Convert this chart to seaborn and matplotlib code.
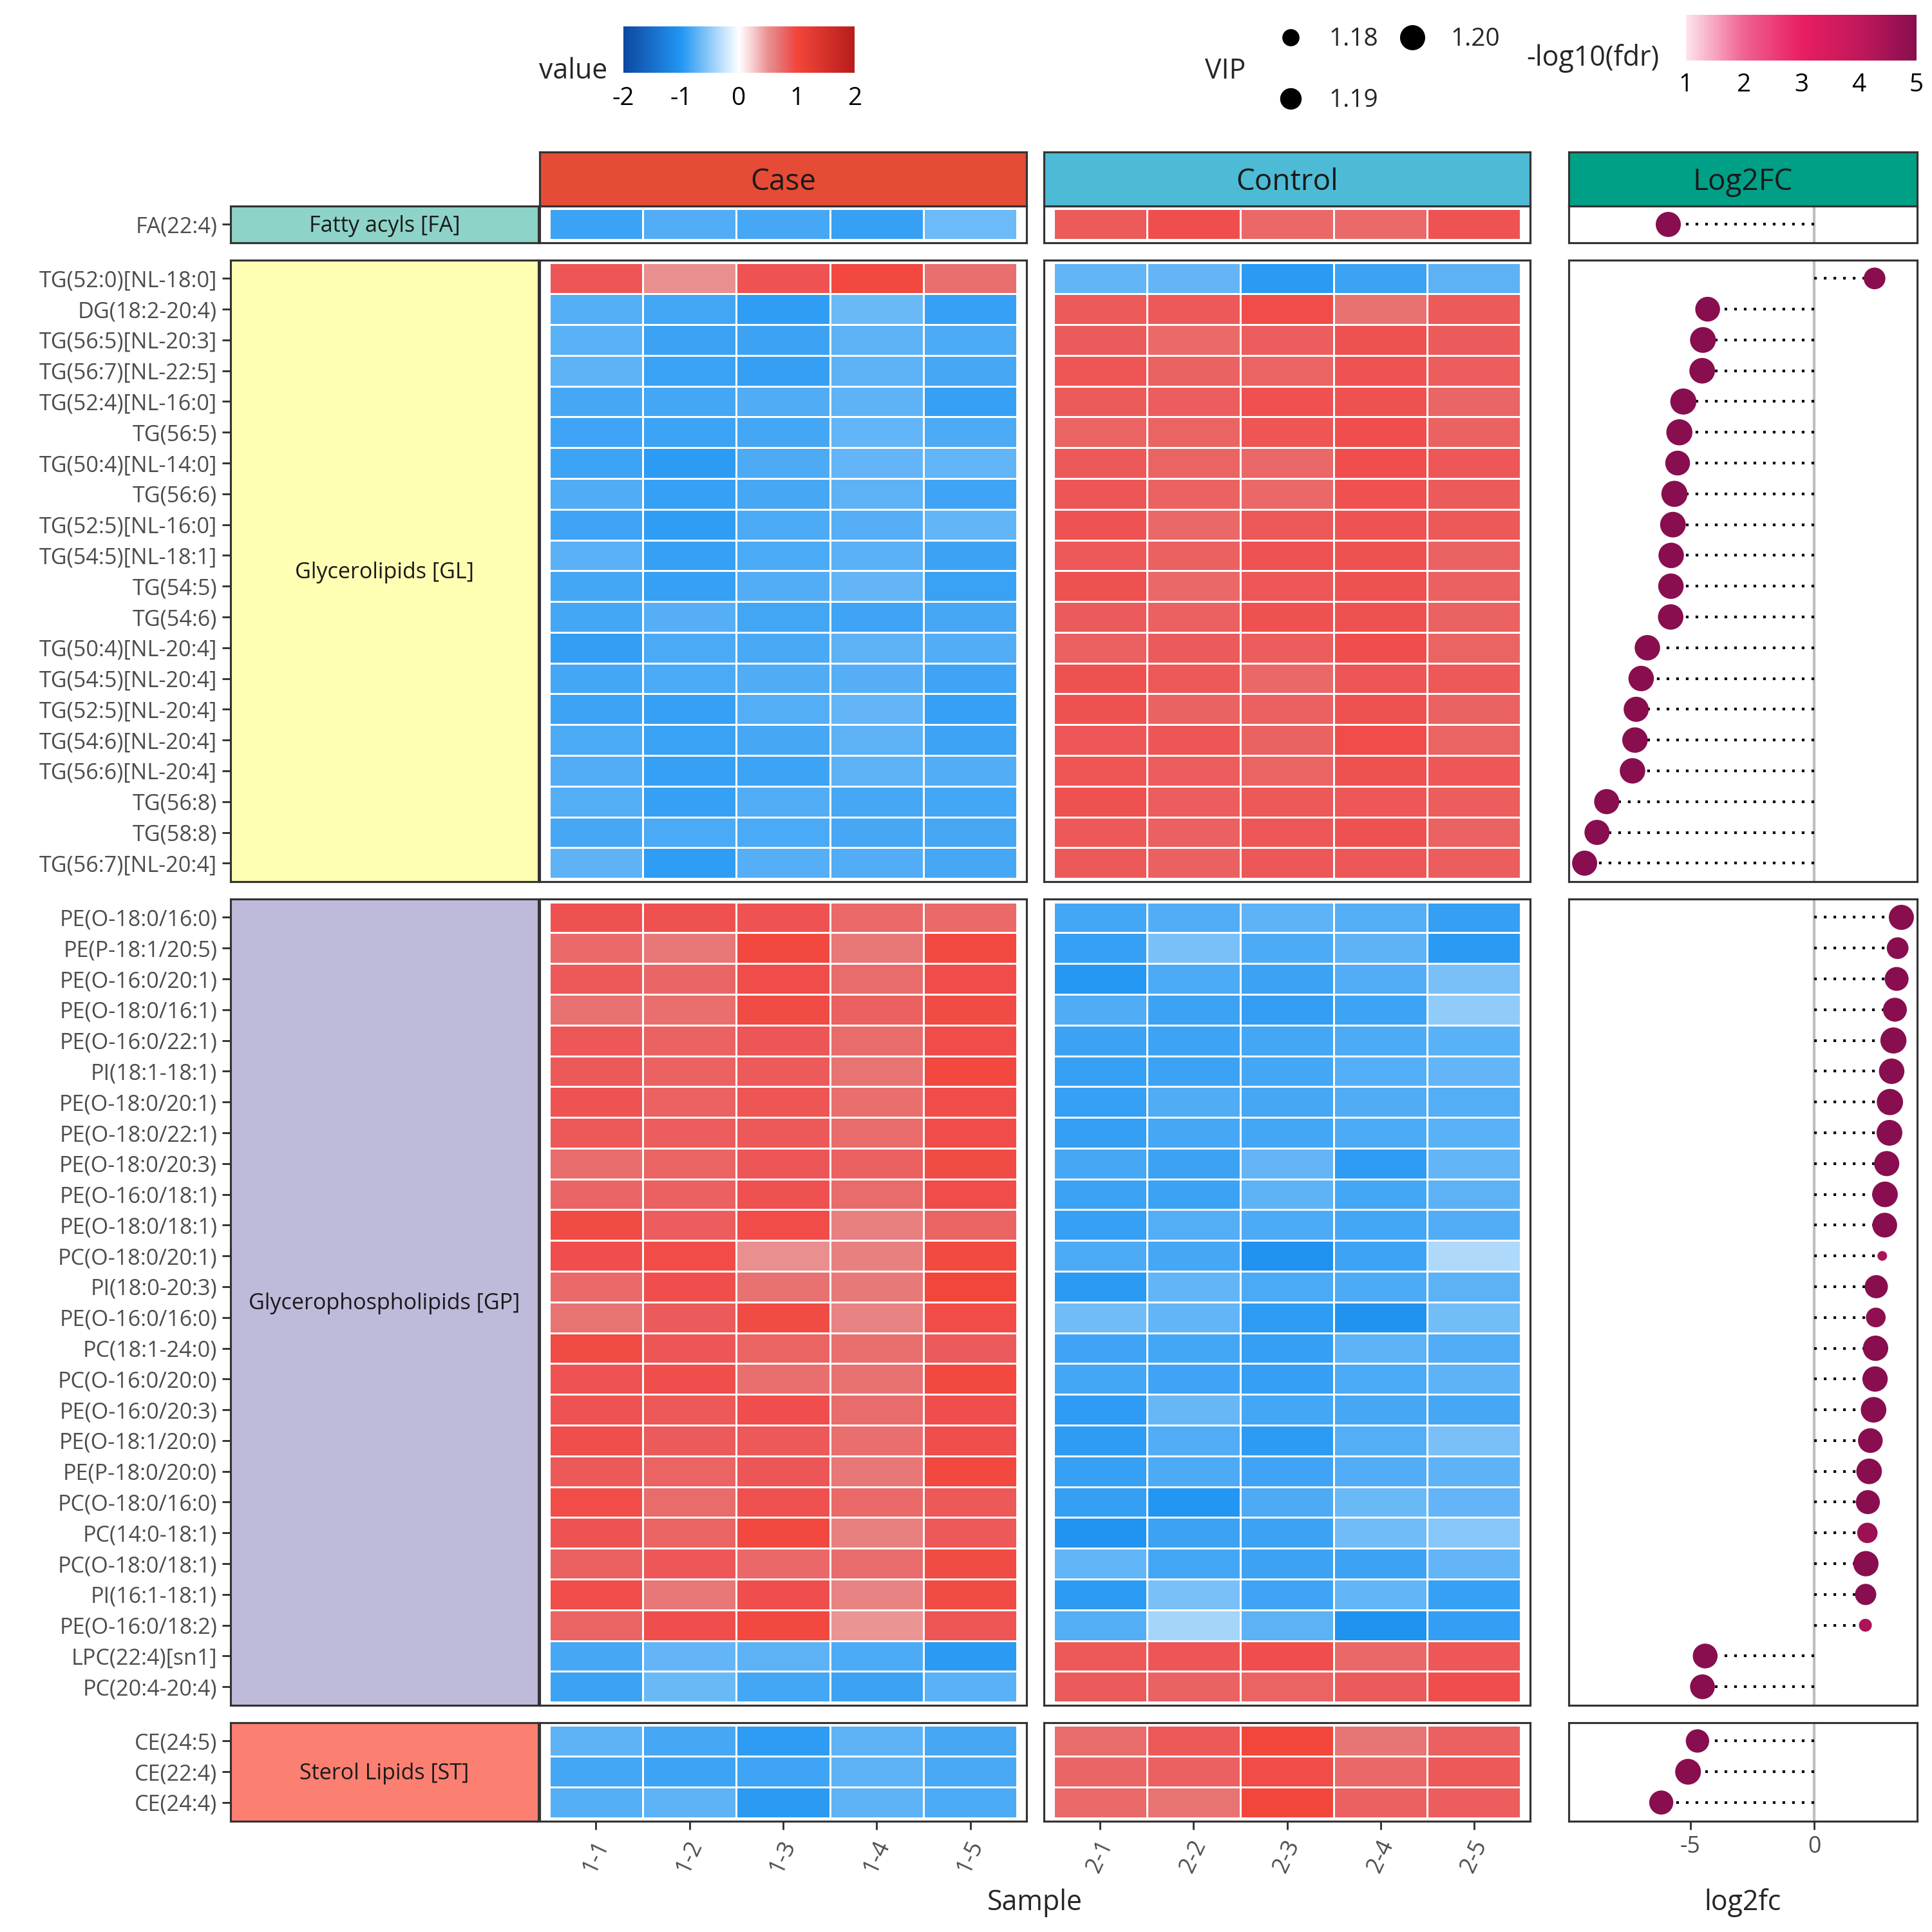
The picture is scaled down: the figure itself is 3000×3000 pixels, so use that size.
import numpy as np
import pandas as pd
import matplotlib
matplotlib.use("Agg")
import matplotlib.pyplot as plt
import seaborn as sns
from matplotlib.colors import LinearSegmentedColormap, Normalize
from matplotlib.cm import ScalarMappable

# ------------------------------------------------------------------ data
case_samples = ["1-1", "1-2", "1-3", "1-4", "1-5"]
control_samples = ["2-1", "2-2", "2-3", "2-4", "2-5"]

group_labels = ["Fatty acyls [FA]", "Glycerolipids [GL]",
                "Glycerophospholipids [GP]", "Sterol Lipids [ST]"]
group_colors = ["#8DD3C7", "#FFFFB3", "#BEBADA", "#FB8072"]

header_labels = ["Case", "Control", "Log2FC"]
header_colors = ["#E64B35", "#4DBBD5", "#00A087"]

# --- Fatty acyls
fa_names = ["FA(22:4)"]
fa_case = [[-0.88, -0.78, -0.83, -0.90, -0.66]]
fa_control = [[0.85, 0.93, 0.77, 0.76, 0.90]]
fa_log2fc = [-5.89]
fa_vip = [1.200]
fa_fdr = [5.0]

# --- Glycerolipids
gl_names = ["TG(52:0)[NL-18:0]", "DG(18:2-20:4)", "TG(56:5)[NL-20:3]", "TG(56:7)[NL-22:5]",
            "TG(52:4)[NL-16:0]", "TG(56:5)", "TG(50:4)[NL-14:0]", "TG(56:6)",
            "TG(52:5)[NL-16:0]", "TG(54:5)[NL-18:1]", "TG(54:5)", "TG(54:6)",
            "TG(50:4)[NL-20:4]", "TG(54:5)[NL-20:4]", "TG(52:5)[NL-20:4]", "TG(54:6)[NL-20:4]",
            "TG(56:6)[NL-20:4]", "TG(56:8)", "TG(58:8)", "TG(56:7)[NL-20:4]"]
gl_case = [
    [0.88, 0.50, 0.90, 0.98, 0.72],
    [-0.77, -0.85, -0.93, -0.67, -0.90],
    [-0.75, -0.88, -0.88, -0.73, -0.80],
    [-0.72, -0.89, -0.91, -0.73, -0.83],
    [-0.83, -0.84, -0.79, -0.72, -0.90],
    [-0.86, -0.87, -0.84, -0.71, -0.80],
    [-0.87, -0.95, -0.80, -0.70, -0.71],
    [-0.79, -0.90, -0.83, -0.73, -0.86],
    [-0.86, -0.93, -0.80, -0.76, -0.71],
    [-0.74, -0.90, -0.81, -0.74, -0.88],
    [-0.84, -0.90, -0.78, -0.70, -0.89],
    [-0.84, -0.76, -0.85, -0.86, -0.83],
    [-0.92, -0.81, -0.82, -0.73, -0.78],
    [-0.84, -0.81, -0.79, -0.76, -0.86],
    [-0.87, -0.90, -0.77, -0.70, -0.90],
    [-0.81, -0.89, -0.83, -0.73, -0.87],
    [-0.78, -0.90, -0.87, -0.73, -0.78],
    [-0.77, -0.90, -0.78, -0.83, -0.84],
    [-0.83, -0.81, -0.81, -0.83, -0.83],
    [-0.72, -0.93, -0.76, -0.78, -0.83],
]
gl_control = [
    [-0.71, -0.70, -0.96, -0.88, -0.73],
    [0.85, 0.86, 0.94, 0.70, 0.85],
    [0.84, 0.76, 0.83, 0.92, 0.84],
    [0.89, 0.80, 0.79, 0.90, 0.83],
    [0.84, 0.83, 0.92, 0.91, 0.78],
    [0.79, 0.79, 0.89, 0.93, 0.80],
    [0.86, 0.79, 0.77, 0.93, 0.87],
    [0.88, 0.80, 0.77, 0.91, 0.84],
    [0.90, 0.77, 0.86, 0.90, 0.86],
    [0.86, 0.82, 0.90, 0.91, 0.80],
    [0.92, 0.77, 0.87, 0.91, 0.81],
    [0.84, 0.81, 0.91, 0.91, 0.80],
    [0.82, 0.84, 0.83, 0.93, 0.79],
    [0.91, 0.86, 0.77, 0.88, 0.86],
    [0.92, 0.80, 0.81, 0.91, 0.80],
    [0.87, 0.88, 0.80, 0.94, 0.79],
    [0.89, 0.83, 0.79, 0.91, 0.87],
    [0.92, 0.83, 0.86, 0.87, 0.83],
    [0.86, 0.82, 0.87, 0.91, 0.80],
    [0.86, 0.82, 0.87, 0.87, 0.83],
]
gl_log2fc = [2.43, -4.30, -4.49, -4.52, -5.28, -5.44, -5.51, -5.64, -5.70, -5.77,
             -5.78, -5.79, -6.73, -6.98, -7.18, -7.23, -7.33, -8.37, -8.76, -9.26]
gl_vip = [1.1905, 1.199, 1.202, 1.2015, 1.203, 1.203, 1.199, 1.203, 1.2015, 1.201,
          1.201, 1.201, 1.201, 1.201, 1.200, 1.201, 1.201, 1.200, 1.200, 1.200]
gl_fdr = [5.0] * 20

# --- Glycerophospholipids
gp_names = ["PE(O-18:0/16:0)", "PE(P-18:1/20:5)", "PE(O-16:0/20:1)", "PE(O-18:0/16:1)",
            "PE(O-16:0/22:1)", "PI(18:1-18:1)", "PE(O-18:0/20:1)", "PE(O-18:0/22:1)",
            "PE(O-18:0/20:3)", "PE(O-16:0/18:1)", "PE(O-18:0/18:1)", "PC(O-18:0/20:1)",
            "PI(18:0-20:3)", "PE(O-16:0/16:0)", "PC(18:1-24:0)", "PC(O-16:0/20:0)",
            "PE(O-16:0/20:3)", "PE(O-18:1/20:0)", "PE(P-18:0/20:0)", "PC(O-18:0/16:0)",
            "PC(14:0-18:1)", "PC(O-18:0/18:1)", "PI(16:1-18:1)", "PE(O-16:0/18:2)",
            "LPC(22:4)[sn1]", "PC(20:4-20:4)"]
gp_case = [
    [0.92, 0.92, 0.90, 0.76, 0.76],
    [0.76, 0.67, 0.98, 0.67, 0.97],
    [0.86, 0.78, 0.94, 0.74, 0.94],
    [0.70, 0.72, 0.96, 0.82, 0.96],
    [0.87, 0.80, 0.88, 0.74, 0.94],
    [0.86, 0.80, 0.85, 0.69, 0.98],
    [0.90, 0.80, 0.89, 0.72, 0.94],
    [0.86, 0.83, 0.86, 0.74, 0.94],
    [0.74, 0.79, 0.88, 0.81, 0.96],
    [0.78, 0.82, 0.92, 0.74, 0.94],
    [0.96, 0.83, 0.95, 0.62, 0.79],
    [0.93, 0.95, 0.50, 0.62, 0.97],
    [0.76, 0.93, 0.70, 0.66, 1.00],
    [0.69, 0.84, 0.96, 0.60, 0.95],
    [0.96, 0.88, 0.79, 0.72, 0.84],
    [0.90, 0.93, 0.72, 0.70, 0.98],
    [0.90, 0.86, 0.93, 0.74, 0.93],
    [0.93, 0.84, 0.86, 0.72, 0.93],
    [0.86, 0.79, 0.88, 0.67, 0.98],
    [0.95, 0.74, 0.91, 0.76, 0.86],
    [0.90, 0.79, 0.98, 0.62, 0.86],
    [0.82, 0.87, 0.77, 0.74, 0.96],
    [0.94, 0.67, 0.93, 0.60, 0.96],
    [0.79, 0.93, 0.98, 0.48, 0.89],
    [-0.83, -0.70, -0.73, -0.80, -0.96],
    [-0.88, -0.67, -0.84, -0.88, -0.75],
]
gp_control = [
    [-0.84, -0.78, -0.72, -0.77, -0.91],
    [-0.90, -0.60, -0.80, -0.72, -0.96],
    [-0.98, -0.80, -0.88, -0.78, -0.60],
    [-0.79, -0.88, -0.92, -0.87, -0.50],
    [-0.88, -0.87, -0.84, -0.80, -0.75],
    [-0.90, -0.88, -0.84, -0.77, -0.70],
    [-0.90, -0.79, -0.83, -0.79, -0.77],
    [-0.91, -0.83, -0.84, -0.80, -0.75],
    [-0.83, -0.88, -0.70, -0.94, -0.71],
    [-0.88, -0.88, -0.72, -0.84, -0.73],
    [-0.90, -0.77, -0.80, -0.84, -0.78],
    [-0.80, -0.83, -1.05, -0.87, -0.36],
    [-0.96, -0.71, -0.81, -0.80, -0.73],
    [-0.64, -0.71, -0.94, -1.05, -0.63],
    [-0.86, -0.84, -0.91, -0.72, -0.78],
    [-0.84, -0.86, -0.91, -0.81, -0.72],
    [-0.94, -0.68, -0.84, -0.83, -0.83],
    [-0.94, -0.78, -0.95, -0.77, -0.60],
    [-0.90, -0.80, -0.86, -0.78, -0.72],
    [-0.91, -1.00, -0.80, -0.67, -0.70],
    [-1.02, -0.88, -0.88, -0.64, -0.54],
    [-0.71, -0.84, -0.88, -0.88, -0.70],
    [-0.95, -0.60, -0.86, -0.71, -0.90],
    [-0.77, -0.40, -0.73, -1.05, -0.92],
    [0.86, 0.88, 0.93, 0.77, 0.87],
    [0.84, 0.80, 0.79, 0.84, 0.93],
]
gp_log2fc = [3.51, 3.36, 3.32, 3.25, 3.19, 3.12, 3.05, 3.03, 2.92, 2.85, 2.84, 2.74, 2.50,
             2.48, 2.47, 2.45, 2.39, 2.26, 2.21, 2.16, 2.14, 2.08, 2.07, 2.06, -4.40, -4.51]
gp_vip = [1.200, 1.1905, 1.1964, 1.1964, 1.203, 1.201, 1.2035, 1.202, 1.200, 1.2015,
          1.199, 1.168, 1.1944, 1.1855, 1.2006, 1.2006, 1.2014, 1.1987, 1.2014, 1.1968,
          1.1872, 1.2006, 1.1893, 1.1723, 1.199, 1.199]
gp_fdr = [5.0, 5.0, 5.0, 5.0, 5.0, 5.0, 5.0, 5.0, 5.0, 5.0, 5.0, 4.4, 5.0, 4.85, 5.0, 5.0,
          5.0, 5.0, 5.0, 5.0, 4.65, 5.0, 5.0, 4.4, 5.0, 5.0]

# --- Sterol lipids
st_names = ["CE(24:5)", "CE(22:4)", "CE(24:4)"]
st_case = [[-0.72, -0.83, -0.94, -0.72, -0.83],
           [-0.84, -0.87, -0.86, -0.73, -0.82],
           [-0.77, -0.72, -0.96, -0.72, -0.80]]
st_control = [[0.74, 0.86, 1.00, 0.68, 0.82],
              [0.78, 0.82, 0.95, 0.77, 0.86],
              [0.76, 0.69, 1.00, 0.82, 0.83]]
st_log2fc = [-4.71, -5.09, -6.17]
st_vip = [1.195, 1.202, 1.197]
st_fdr = [5.0, 5.0, 5.0]

value_ticks = [-2, -1, 0, 1, 2]
fdr_ticks = [1, 2, 3, 4, 5]
vip_breaks = [1.18, 1.19, 1.20]
fc_ticks = [-5, 0]

# ------------------------------------------------------------------ style
sns.set_theme(style="white")
plt.rcParams["font.family"] = ["Open Sans", "DejaVu Sans"]
plt.rcParams["axes.unicode_minus"] = False

value_stops = [-2, -1, 0, 0.25, 0.5, 0.62, 0.7, 0.77, 0.85, 0.92, 1.0, 2.0]
value_cols = ["#0D47A1", "#2196F3", "#FFFFFF", "#F6CACC", "#EA9090", "#E88080",
              "#E87272", "#EA6868", "#EC5A5A", "#EF5050", "#F3463A", "#B71C1C"]
value_cmap = LinearSegmentedColormap.from_list(
    "value", [((v + 2) / 4, c) for v, c in zip(value_stops, value_cols)], N=512)
fdr_cmap = LinearSegmentedColormap.from_list(
    "fdr", ["#FCE4EC", "#F06292", "#E91E63", "#C2185B", "#880E4F"], N=256)

V_MIN, V_MAX = 1.165, 1.205
S_MIN, S_MAX = 6.05, 99.25


def vip_to_s(v):
    return S_MIN + (v - V_MIN) / (V_MAX - V_MIN) * (S_MAX - S_MIN)


W, H, DPI = 3000, 3000, 300
fig = plt.figure(figsize=(W / DPI, H / DPI), dpi=DPI)
fig.patch.set_facecolor("white")


def rect(x0, y0, x1, y1):
    return [x0 / W, 1 - y1 / H, (x1 - x0) / W, (y1 - y0) / H]


def frame(ax, lw=0.75, color="#333333"):
    for sp in ax.spines.values():
        sp.set_visible(True)
        sp.set_linewidth(lw)
        sp.set_color(color)


STRIP_X = (358, 836)
CASE_X = (838, 1594)
CTRL_X = (1621, 2376)
FC_X = (2436, 2977)
PANEL_TOP = 319.5
GAP = 26.8
UNIT = 47.79
HEAD_Y = (236, 319.5)

groups = [
    dict(label=group_labels[0], color=group_colors[0], names=fa_names, case=fa_case,
         ctrl=fa_control, fc=fa_log2fc, vip=fa_vip, fdr=fa_fdr),
    dict(label=group_labels[1], color=group_colors[1], names=gl_names, case=gl_case,
         ctrl=gl_control, fc=gl_log2fc, vip=gl_vip, fdr=gl_fdr),
    dict(label=group_labels[2], color=group_colors[2], names=gp_names, case=gp_case,
         ctrl=gp_control, fc=gp_log2fc, vip=gp_vip, fdr=gp_fdr),
    dict(label=group_labels[3], color=group_colors[3], names=st_names, case=st_case,
         ctrl=st_control, fc=st_log2fc, vip=st_vip, fdr=st_fdr),
]

all_fc = np.concatenate([np.asarray(g["fc"]) for g in groups])
span = all_fc.max() - all_fc.min()
fc_lim = (all_fc.min() - 0.05 * span, all_fc.max() + 0.05 * span)

# headers
for (x0, x1), lab, col in zip([CASE_X, CTRL_X, FC_X], header_labels, header_colors):
    axh = fig.add_axes(rect(x0, HEAD_Y[0], x1, HEAD_Y[1]))
    axh.set_facecolor(col)
    axh.set_xticks([])
    axh.set_yticks([])
    axh.text(0.5, 0.44, lab, transform=axh.transAxes, ha="center", va="center",
             fontsize=11, color="#1A1A1A")
    frame(axh)

y = PANEL_TOP
for gi, g in enumerate(groups):
    n = len(g["names"])
    h = (n + 0.2) * UNIT
    last = gi == len(groups) - 1
    pos = np.arange(n) + 0.5

    # left group strip with row labels
    axs = fig.add_axes(rect(STRIP_X[0], y, STRIP_X[1], y + h))
    axs.set_facecolor(g["color"])
    axs.set_xlim(0, 1)
    axs.set_ylim(n + 0.1, -0.1)
    axs.set_xticks([])
    axs.set_yticks(pos)
    axs.set_yticklabels(g["names"], fontsize=8.2, color="#4D4D4D")
    axs.tick_params(axis="y", left=True, length=3.1, width=0.7, color="#333333", pad=1.9)
    axs.text(0.5, (n) / 2 + 0.05, g["label"], ha="center", va="center", fontsize=8.2,
             color="#1A1A1A")
    frame(axs)

    # heatmaps
    for key, cols, (x0, x1) in [("case", case_samples, CASE_X),
                                ("ctrl", control_samples, CTRL_X)]:
        ax = fig.add_axes(rect(x0, y, x1, y + h))
        df = pd.DataFrame(g[key], index=g["names"], columns=cols)
        sns.heatmap(df, ax=ax, cmap=value_cmap, vmin=-2, vmax=2, cbar=False,
                    linewidths=0.25, linecolor="white",
                    xticklabels=cols if last else False, yticklabels=False)
        ax.set_xlim(-0.1, 5.1)
        ax.set_ylim(n + 0.1, -0.1)
        ax.set_xlabel("")
        ax.set_ylabel("")
        frame(ax)
        if last:
            ax.tick_params(axis="x", bottom=True, length=3.1, width=0.7, color="#333333",
                           pad=2.5, labelsize=8.6, labelcolor="#4D4D4D")
            for t in ax.get_xticklabels():
                t.set_rotation(65)
                t.set_ha("center")
                t.set_va("top")

    # lollipop
    axf = fig.add_axes(rect(FC_X[0], y, FC_X[1], y + h))
    axf.axvline(0, color="#BEBEBE", lw=1.0, zorder=1)
    axf.hlines(pos, 0, g["fc"], colors="black", linestyles=[(0, (1, 2.6))], lw=1.0,
               zorder=2)
    fdf = pd.DataFrame({"log2fc": g["fc"], "pos": pos, "fdr": g["fdr"], "vip": g["vip"]})
    sns.scatterplot(data=fdf, x="log2fc", y="pos", hue="fdr", size="vip",
                    palette=fdr_cmap, hue_norm=(1, 5), sizes=(S_MIN, S_MAX),
                    size_norm=(V_MIN, V_MAX), linewidth=0, legend=False, ax=axf, zorder=3)
    axf.set_xlim(*fc_lim)
    axf.set_ylim(n + 0.1, -0.1)
    axf.set_yticks([])
    axf.set_xlabel("")
    axf.set_ylabel("")
    frame(axf)
    if last:
        axf.set_xticks(fc_ticks)
        axf.set_xticklabels([str(t) for t in fc_ticks])
        axf.tick_params(axis="x", bottom=True, length=3.1, width=0.7, color="#333333",
                        pad=2.2, labelsize=8.6, labelcolor="#4D4D4D")
    else:
        axf.set_xticks([])
    y += h + GAP

# ------------------------------------------------------------------ legends / titles
ov = fig.add_axes([0, 0, 1, 1])
ov.set_xlim(0, W)
ov.set_ylim(H, 0)
ov.axis("off")
ov.patch.set_visible(False)
ov.set_zorder(10)

# value colourbar
cax = fig.add_axes(rect(968, 41, 1327, 113))
cb = fig.colorbar(ScalarMappable(norm=Normalize(-2, 2), cmap=value_cmap), cax=cax,
                  orientation="horizontal", ticks=value_ticks)
cb.outline.set_visible(False)
cax.set_xticklabels([str(t) for t in value_ticks])
cax.tick_params(axis="x", direction="in", length=3.4, width=0.6, color="white",
                top=True, bottom=True, labeltop=False, labelbottom=True,
                labelsize=9.3, labelcolor="black", pad=5)
ov.text(943, 122, "value", ha="right", va="baseline", fontsize=10.3)

# fdr colourbar
cax2 = fig.add_axes(rect(2618, 23, 2976, 94))
cb2 = fig.colorbar(ScalarMappable(norm=Normalize(1, 5), cmap=fdr_cmap), cax=cax2,
                   orientation="horizontal", ticks=fdr_ticks)
cb2.outline.set_visible(False)
cax2.set_xticklabels([str(t) for t in fdr_ticks])
cax2.tick_params(axis="x", direction="in", length=3.4, width=0.6, color="white",
                 top=True, bottom=True, labeltop=False, labelbottom=True,
                 labelsize=9.3, labelcolor="black", pad=4.5)
ov.text(2370, 102, "-log10(fdr)", ha="left", va="baseline", fontsize=10.3)

# VIP size legend
ov.text(1871, 122, "VIP", ha="left", va="baseline", fontsize=10.3)
key_xy = [(2004, 58), (2004, 153), (2193, 58)]
for (kx, ky), b in zip(key_xy, vip_breaks):
    ov.scatter([kx], [ky], s=vip_to_s(b), color="black", linewidths=0, clip_on=False)
    ov.text(kx + 59, ky + 13, f"{b:.2f}", ha="left", va="baseline", fontsize=9.3)

# axis titles
ov.text(1607, 2966, "Sample", ha="center", va="baseline", fontsize=10.3)
ov.text(2706, 2966, "log2fc", ha="center", va="baseline", fontsize=10.3)

fig.savefig("out.png", dpi=DPI, facecolor="white")
